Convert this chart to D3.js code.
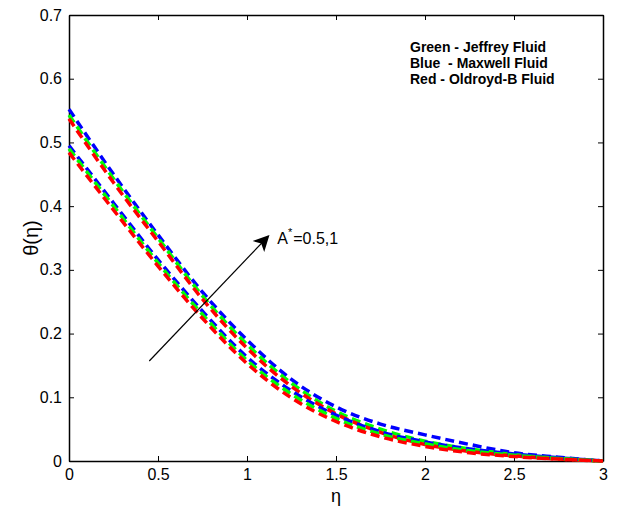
<!DOCTYPE html>
<html>
<head>
<meta charset="utf-8">
<script src="https://cdn.jsdelivr.net/npm/d3@7"></script>
<style>
  body { margin: 0; background: #fff; }
  text { font-family: "Liberation Sans", Arial, sans-serif; }
</style>
</head>
<body>
<div id="chart"></div>
<script>
// chart size
var svgWidth = 617;
var svgHeight = 511;

var margin = { top: 15, right: 14, bottom: 50, left: 69 };
var width = 603 - margin.left;
var height = 461 - margin.top;

// data
var eta = [0, 0.25, 0.5, 0.75, 1, 1.25, 1.5, 1.75, 2, 2.25, 2.5, 2.75, 3];

// A* = 1 (upper group)
var blueHigh  = [0.552, 0.450, 0.355, 0.265, 0.190, 0.128, 0.085, 0.058, 0.041, 0.026, 0.013, 0.006, 0.0];
var greenHigh = [0.543, 0.443, 0.350, 0.259, 0.183, 0.122, 0.078, 0.050, 0.031, 0.019, 0.010, 0.004, 0.0];
var redHigh   = [0.537, 0.437, 0.345, 0.254, 0.177, 0.117, 0.074, 0.045, 0.026, 0.015, 0.008, 0.003, 0.0];

// A* = 0.5 (lower group)
var blueLow  = [0.495, 0.405, 0.316, 0.235, 0.163, 0.110, 0.072, 0.046, 0.030, 0.019, 0.011, 0.005, 0.0];
var greenLow = [0.490, 0.400, 0.311, 0.230, 0.158, 0.105, 0.067, 0.042, 0.027, 0.016, 0.009, 0.004, 0.0];
var redLow   = [0.484, 0.394, 0.306, 0.224, 0.153, 0.099, 0.062, 0.038, 0.023, 0.013, 0.007, 0.003, 0.0];

var xTicks = [0, 0.5, 1, 1.5, 2, 2.5, 3];
var yTicks = [0, 0.1, 0.2, 0.3, 0.4, 0.5, 0.6, 0.7];

var legendLines = ["Green - Jeffrey Fluid", "Blue  - Maxwell Fluid", "Red - Oldroyd-B Fluid"];

// arrow from / to in data units
var arrowFrom = [0.451, 0.157];
var arrowTo = [1.12, 0.353];

var svg = d3.select("#chart")
    .append("svg")
    .attr("width", svgWidth)
    .attr("height", svgHeight);

var chartGroup = svg.append("g")
    .attr("transform", `translate(${margin.left}, ${margin.top})`);

var xScale = d3.scaleLinear().domain([0, 3]).range([0, width]);
var yScale = d3.scaleLinear().domain([0, 0.7]).range([height, 0]);

var fmt = d => (d === 0 ? "0" : String(d));

// axes, ticks pointing inward like matlab
chartGroup.append("g")
    .attr("class", "axis")
    .attr("transform", `translate(0, ${height})`)
    .call(d3.axisBottom(xScale).tickValues(xTicks).tickFormat(fmt).tickSizeInner(-5).tickSizeOuter(0).tickPadding(8));

chartGroup.append("g")
    .attr("class", "axis")
    .call(d3.axisLeft(yScale).tickValues(yTicks).tickFormat(fmt).tickSizeInner(-5).tickSizeOuter(0).tickPadding(7));

chartGroup.append("g")
    .attr("class", "axis")
    .call(d3.axisTop(xScale).tickValues(xTicks).tickFormat("").tickSizeInner(-5).tickSizeOuter(0));

chartGroup.append("g")
    .attr("class", "axis")
    .attr("transform", `translate(${width}, 0)`)
    .call(d3.axisRight(yScale).tickValues(yTicks).tickFormat("").tickSizeInner(-5).tickSizeOuter(0));

chartGroup.selectAll(".axis path").attr("stroke", "#000").attr("stroke-width", 1.5);
chartGroup.selectAll(".axis line").attr("stroke", "#000");
chartGroup.selectAll(".axis text")
    .attr("font-size", "16px")
    .attr("fill", "#000")
    .style("font-family", "'Liberation Sans', Arial, sans-serif");

// curves
var series = [
    { values: blueHigh, color: "#0000ff" },
    { values: greenHigh, color: "#00ff00" },
    { values: redHigh, color: "#ff0000" },
    { values: blueLow, color: "#0000ff" },
    { values: greenLow, color: "#00ff00" },
    { values: redLow, color: "#ff0000" }
];

var line = d3.line()
    .x((d, i) => xScale(eta[i]))
    .y(d => yScale(d))
    .curve(d3.curveMonotoneX);

chartGroup.selectAll(".curve")
    .data(series)
    .enter()
    .append("path")
    .attr("class", "curve")
    .attr("d", d => line(d.values))
    .attr("fill", "none")
    .attr("stroke", d => d.color)
    .attr("stroke-width", 3.5)
    .attr("stroke-dasharray", "9,5");

// arrow
svg.append("defs").append("marker")
    .attr("id", "head")
    .attr("viewBox", "0 0 10 10")
    .attr("refX", 9)
    .attr("refY", 5)
    .attr("markerWidth", 20)
    .attr("markerHeight", 16)
    .attr("markerUnits", "userSpaceOnUse")
    .attr("orient", "auto")
    .append("path")
    .attr("d", "M0,0 L10,5 L0,10 L2.5,5 Z")
    .attr("fill", "#000");

chartGroup.append("line")
    .attr("x1", xScale(arrowFrom[0]))
    .attr("y1", yScale(arrowFrom[1]))
    .attr("x2", xScale(arrowTo[0]))
    .attr("y2", yScale(arrowTo[1]))
    .attr("stroke", "#000")
    .attr("stroke-width", 1.2)
    .attr("marker-end", "url(#head)");

var ann = chartGroup.append("text")
    .attr("x", xScale(1.17))
    .attr("y", yScale(0.34))
    .attr("font-size", "16px")
    .attr("fill", "#000");
ann.append("tspan").text("A");
ann.append("tspan").attr("dy", -8).attr("font-size", "11px").text("*");
ann.append("tspan").attr("dy", 8).attr("dx", 1).text("=0.5,1");

// legend text
chartGroup.selectAll(".legend")
    .data(legendLines)
    .enter()
    .append("text")
    .attr("class", "legend")
    .attr("x", 410 - margin.left)
    .attr("y", (d, i) => 52 - margin.top + i * 16)
    .attr("font-size", "14px")
    .attr("font-weight", "bold")
    .attr("fill", "#000")
    .style("white-space", "pre")
    .text(d => d);

// axis titles
svg.append("text")
    .attr("transform", `translate(38, ${margin.top + height / 2}) rotate(-90)`)
    .attr("text-anchor", "middle")
    .attr("font-size", "20px")
    .text("θ(η)");

svg.append("text")
    .attr("x", margin.left + width / 2)
    .attr("y", 502)
    .attr("text-anchor", "middle")
    .attr("font-size", "18px")
    .text("η");
</script>
</body>
</html>
